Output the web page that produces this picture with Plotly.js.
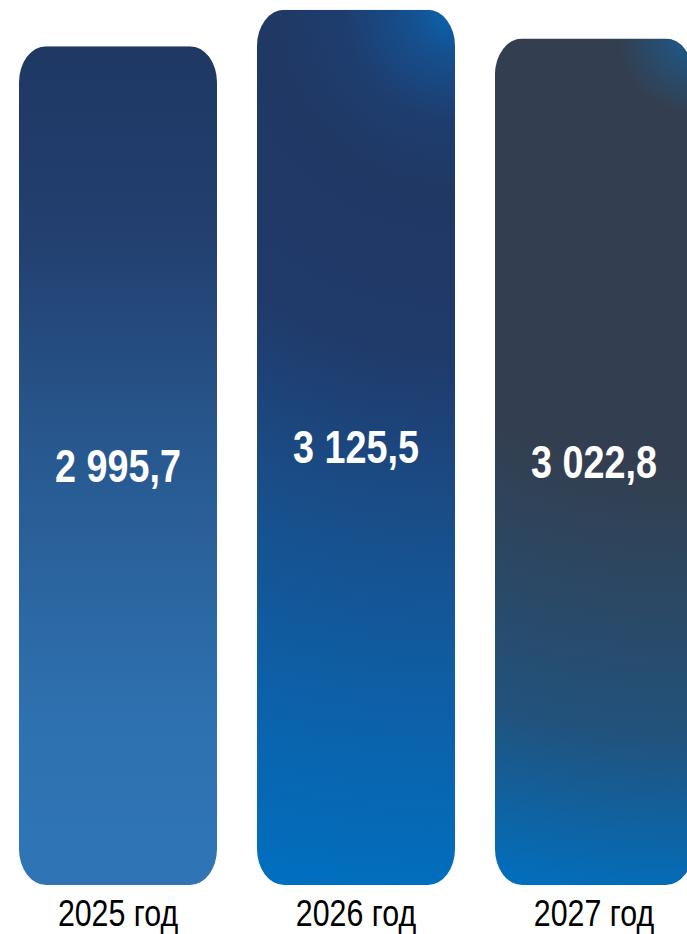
<!DOCTYPE html>
<html><head><meta charset="utf-8">
<script src="https://cdn.plot.ly/plotly-3.0.1.min.js"></script>
<style>html,body{margin:0;padding:0;background:#fff;} #chart{width:687px;height:934px;}</style>
</head><body><div id="chart"></div>
<script>
// ---- data ----
const categories = ['2025 год', '2026 год', '2027 год'];
const values = [2995.7, 3125.5, 3022.8];

// ---- styles ----
const FONT = '"Liberation Sans", Arial, sans-serif';
const NARROW = 0.82; // horizontal condensing to mimic Arial Narrow
const baseColors = ['#285a91', '#1a4c86', '#2b4865'];
const gradients = [
  {type: 'linear', stops: [[0, '#1f3864'], [0.22, '#223f6f'], [0.5, '#285a91'], [0.8, '#2e71b0'], [1, '#2f75b6']]},
  {type: 'radial', stops: [[0, '#0a66b3'], [0.05, '#15508f'], [0.12, '#1e3e70'], [0.2, '#203864'], [0.38, '#203a6a'], [0.55, '#1a4c86'], [0.78, '#0d60a8'], [1, '#0070c0']]},
  {type: 'radial', stops: [[0, '#1d5a8c'], [0.085, '#333f50'], [0.5, '#333f50'], [0.65, '#2b4865'], [0.8, '#22527c'], [1, '#0070c0']]}
];

const trace = {
  type: 'bar', x: categories, y: values,
  width: 0.832,
  marker: {color: baseColors, line: {width: 0}},
  texttemplate: '%{y:,.1f}',
  textposition: 'inside', insidetextanchor: 'middle', textangle: 0,
  constraintext: 'none',
  insidetextfont: {family: FONT, size: 46, color: '#ffffff', weight: 'bold'},
  hoverinfo: 'skip'
};

const layout = {
  width: 687, height: 934,
  margin: {l: 0, r: 0, t: 0, b: 49, pad: 0},
  paper_bgcolor: '#ffffff', plot_bgcolor: '#ffffff',
  separators: ', ',
  showlegend: false,
  xaxis: {type: 'category', range: [-0.4958, 2.3908], showgrid: false, zeroline: false, showline: false,
          ticks: '', tickfont: {family: FONT, size: 37, color: '#000000'}, ticklabelstandoff: 3, fixedrange: true},
  yaxis: {range: [0, 3160.7], visible: false, fixedrange: true}
};

function condense(el) {
  const len = el.getComputedTextLength();
  if (len > 0) {
    el.setAttribute('textLength', (len * NARROW).toFixed(2));
    el.setAttribute('lengthAdjust', 'spacingAndGlyphs');
  }
}

Plotly.newPlot('chart', [trace], layout, {staticPlot: true, displayModeBar: false}).then(gd => {
  const NS = 'http://www.w3.org/2000/svg';
  const svg = gd.querySelector('svg.main-svg');
  let defs = svg.querySelector('defs');
  if (!defs) { defs = document.createElementNS(NS, 'defs'); svg.insertBefore(defs, svg.firstChild); }
  const paths = gd.querySelectorAll('.barlayer .point path');
  paths.forEach((p, i) => {
    const bb = p.getBBox();
    const g = gradients[i];
    const gid = 'barGrad' + i;
    let el;
    if (g.type === 'linear') {
      el = document.createElementNS(NS, 'linearGradient');
      el.setAttribute('x1', '0'); el.setAttribute('y1', '0');
      el.setAttribute('x2', '0'); el.setAttribute('y2', '1');
    } else {
      el = document.createElementNS(NS, 'radialGradient');
      el.setAttribute('gradientUnits', 'userSpaceOnUse');
      el.setAttribute('cx', bb.x + bb.width); el.setAttribute('cy', bb.y);
      el.setAttribute('fx', bb.x + bb.width); el.setAttribute('fy', bb.y);
      el.setAttribute('r', Math.hypot(bb.width, bb.height));
    }
    el.setAttribute('id', gid);
    g.stops.forEach(([o, c]) => {
      const s = document.createElementNS(NS, 'stop');
      s.setAttribute('offset', o); s.setAttribute('stop-color', c);
      el.appendChild(s);
    });
    defs.appendChild(el);
    p.style.fill = 'url(#' + gid + ')';
    const cid = 'barClip' + i;
    const cp = document.createElementNS(NS, 'clipPath');
    cp.setAttribute('id', cid);
    const r = document.createElementNS(NS, 'rect');
    r.setAttribute('x', bb.x); r.setAttribute('y', bb.y);
    r.setAttribute('width', bb.width); r.setAttribute('height', bb.height);
    r.setAttribute('rx', 27); r.setAttribute('ry', 36);
    cp.appendChild(r);
    defs.appendChild(cp);
    p.setAttribute('clip-path', 'url(#' + cid + ')');
  });
  gd.querySelectorAll('.barlayer .point text, .xtick text').forEach(condense);
});
</script>
</body></html>
